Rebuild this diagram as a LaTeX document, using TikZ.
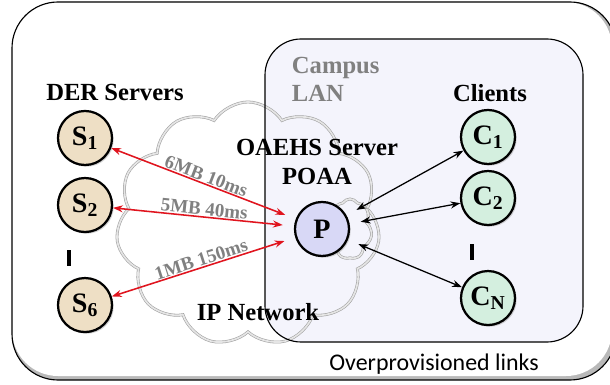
\documentclass[tikz,border=0pt]{standalone}
\usepackage{fontspec}
\setmainfont{Liberation Serif}
\newfontfamily\notefont{Carlito}
\usetikzlibrary{positioning,shapes.symbols,shadows,arrows.meta}
\definecolor{derfill}{HTML}{EEDFC5}
\definecolor{clientfill}{HTML}{D4EFDF}
\definecolor{proxyfill}{HTML}{D8D8F6}
\definecolor{lanfill}{HTML}{F4F4FC}
\definecolor{linkred}{HTML}{E0141E}

\begin{document}
\begin{tikzpicture}[x=0.025cm,y=-0.025cm,>={Stealth[length=7pt,width=5pt]},on grid,
      font=\fontsize{17.5}{20}\selectfont\bfseries,
      host/.style={circle,draw,line width=1.6pt,minimum size=1.35cm,inner sep=0pt,
        font=\fontsize{20}{22}\selectfont\bfseries,
        drop shadow={shadow xshift=1.2pt,shadow yshift=-1.2pt,fill=black!35}},
      server/.style={host,fill=derfill},
      client/.style={host,fill=clientfill},
      proxy/.style={host,fill=proxyfill},
      wan/.style={<->,linkred,line width=1.1pt,shorten >=8pt},
      lan/.style={<->,black,line width=0.9pt,shorten <=8pt},
      rate/.style={sloped,above,inner sep=0.5pt,text=gray,font=\fontsize{13.5}{15}\selectfont\bfseries},
      bar/.style={fill=black,minimum width=3pt,minimum height=0.4cm,inner sep=0pt},
      net/.style={cloud,cloud puffs=11,cloud puff arc=115,aspect=1.05,draw=gray!75,
        double=gray!20,double distance=1.2pt}]
      \useasboundingbox (0,0) rectangle (610,385);

      % outer frame
      \fill[gray!55,rounded corners=1.15cm] (12,2) rectangle (616,380);
      \fill[white,rounded corners=1.15cm] (12,2) rectangle (612,376);
      \draw[line width=0.8pt,rounded corners=1.15cm] (12,2) rectangle (616,380);

      % campus LAN
      \fill[lanfill,rounded corners=0.9cm] (265,39) rectangle (583,342);
      \node[net,minimum width=6.6cm,minimum height=6.1cm] (ipnet) at (248,224) {};
      \node[net,cloud puffs=7,minimum width=1.1cm,minimum height=1.5cm] (lannet) at (350,229) {};
      \draw[line width=0.8pt,rounded corners=0.9cm] (265,39) rectangle (583,342);

      \node (der) at (115,92) {DER Servers};
      \node (clients) at (490,93) {Clients};
      \node[text=gray,align=left,anchor=west] (campus) at (287,79) {Campus\\LAN};
      \node[align=center] (oaehs) at (317,162) {OAEHS Server\\POAA};
      \node (ipname) at (258,312) {IP Network};
      \node[font=\notefont\fontsize{17}{19}\selectfont] (note) at (434,364) {Overprovisioned links};

      \node[server] (s1) at (85,138) {S\textsubscript{1}};
      \node[server] (s2) [below=1.675cm of s1] {S\textsubscript{2}};
      \node[server] (s6) [below=2.5cm of s2] {S\textsubscript{6}};
      \node[bar] (sbar) at (69,258) {};

      \node[proxy] (p) at (322,229) {P};

      \node[client] (c1) at (488,137) {C\textsubscript{1}};
      \node[client] (c2) [below=1.525cm of c1] {C\textsubscript{2}};
      \node[client] (cn) [below=2.5cm of c2] {C\textsubscript{N}};
      \node[bar] (cbar) at (472,252) {};

      \draw[wan] (s1) -- (p) node[rate,midway] {6MB 10ms};
      \draw[wan] (s2) -- (p) node[rate,midway] {5MB 40ms};
      \draw[wan] (s6) -- (p) node[rate,midway] {1MB 150ms};

      \draw[lan] (p) -- (c1);
      \draw[lan] (p) -- (c2);
      \draw[lan] (p) -- (cn);
    \end{tikzpicture}
\end{document}
